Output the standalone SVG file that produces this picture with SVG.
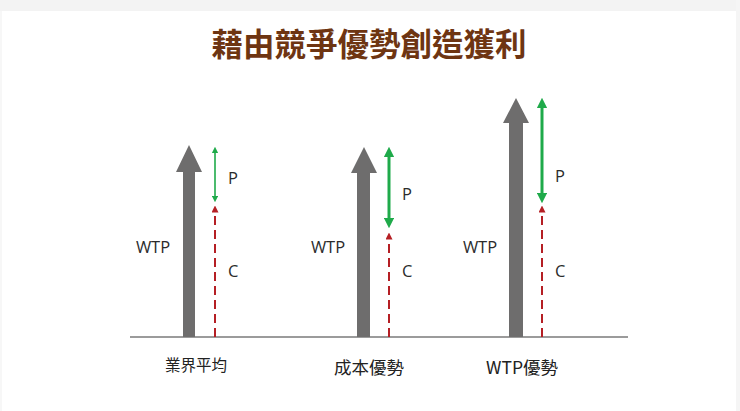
<svg xmlns="http://www.w3.org/2000/svg" width="740" height="411" viewBox="0 0 740 411">
<defs>
<style>
.bar{fill:#6e6d6d}
.grn{stroke:#1faa4a;fill:none}
.red{stroke:#b51f24;stroke-width:2;stroke-dasharray:9 5;fill:none}
.lbl{font-family:"Open Sans","Liberation Sans",sans-serif;font-size:16.5px;fill:#2b2b2b}
.cat{font-family:"Noto Sans CJK TC","Noto Sans",sans-serif;fill:#222}
.title{font-family:"Noto Sans CJK TC",sans-serif;font-size:31.5px;font-weight:bold;fill:#6e3512}
</style>
<marker id="gs" viewBox="0 0 10 10" refX="5" refY="5" markerWidth="4" markerHeight="4" orient="auto-start-reverse" markerUnits="strokeWidth"><path d="M0,0 L10,5 L0,10 Z" fill="#1faa4a"/></marker>
<marker id="gb" viewBox="0 0 10 10" refX="5" refY="5" markerWidth="3.5" markerHeight="3.5" orient="auto-start-reverse" markerUnits="strokeWidth"><path d="M0,0 L10,5 L0,10 Z" fill="#1faa4a"/></marker>
<marker id="rh" viewBox="0 0 10 10" refX="5" refY="5" markerWidth="3.5" markerHeight="3.5" orient="auto" markerUnits="strokeWidth"><path d="M0,0 L10,5 L0,10 Z" fill="#b51f24"/></marker>
</defs>
<rect width="740" height="411" fill="#ffffff"/>
<rect x="0" y="0" width="740" height="11" fill="#f3f3f3"/>
<rect x="736" y="0" width="4" height="411" fill="#f5f5f5"/>
<rect x="0" y="11" width="2" height="400" fill="#f7f7f7"/>
<text class="title" x="369" y="56" text-anchor="middle">藉由競爭優勢創造獲利</text>
<g id="connectors">
<line x1="130" y1="337" x2="628" y2="337" stroke="#7a7a7a" stroke-width="1.5"/>
</g>
<g id="industry-average">
<path class="bar" d="M183,337 V172 H176 L189,145 L202,172 H195 V337 Z"/>
<line class="grn" x1="215" y1="150" x2="215" y2="199" stroke-width="1.6" marker-start="url(#gs)" marker-end="url(#gs)"/>
<line class="red" x1="215" y1="337" x2="215" y2="209" marker-end="url(#rh)"/>
<text class="lbl" x="228" y="177" dominant-baseline="central">P</text>
<text class="lbl" x="153" y="246" text-anchor="middle" dominant-baseline="central">WTP</text>
<text class="lbl" x="228" y="270" dominant-baseline="central">C</text>
<text class="cat" x="196" y="364" font-size="15.5" text-anchor="middle" dominant-baseline="central">業界平均</text>
</g>
<g id="cost-advantage">
<path class="bar" d="M357,337 V173 H351 L364,147 L377,173 H370 V337 Z"/>
<line class="grn" x1="389" y1="152" x2="389" y2="223" stroke-width="3" marker-start="url(#gb)" marker-end="url(#gb)"/>
<line class="red" x1="389" y1="337" x2="389" y2="236" marker-end="url(#rh)"/>
<text class="lbl" x="402" y="193" dominant-baseline="central">P</text>
<text class="lbl" x="328" y="246" text-anchor="middle" dominant-baseline="central">WTP</text>
<text class="lbl" x="402" y="270" dominant-baseline="central">C</text>
<text class="cat" x="369" y="366" font-size="17.5" text-anchor="middle" dominant-baseline="central">成本優勢</text>
</g>
<g id="wtp-advantage">
<path class="bar" d="M509,337 V123 H503 L516,98 L529,123 H523 V337 Z"/>
<line class="grn" x1="542" y1="103" x2="542" y2="198" stroke-width="3" marker-start="url(#gb)" marker-end="url(#gb)"/>
<line class="red" x1="542" y1="337" x2="542" y2="209" marker-end="url(#rh)"/>
<text class="lbl" x="555" y="175" dominant-baseline="central">P</text>
<text class="lbl" x="480" y="246" text-anchor="middle" dominant-baseline="central">WTP</text>
<text class="lbl" x="555" y="270" dominant-baseline="central">C</text>
<text class="cat" x="522" y="366" font-size="17.5" text-anchor="middle" dominant-baseline="central">WTP優勢</text>
</g>
</svg>
